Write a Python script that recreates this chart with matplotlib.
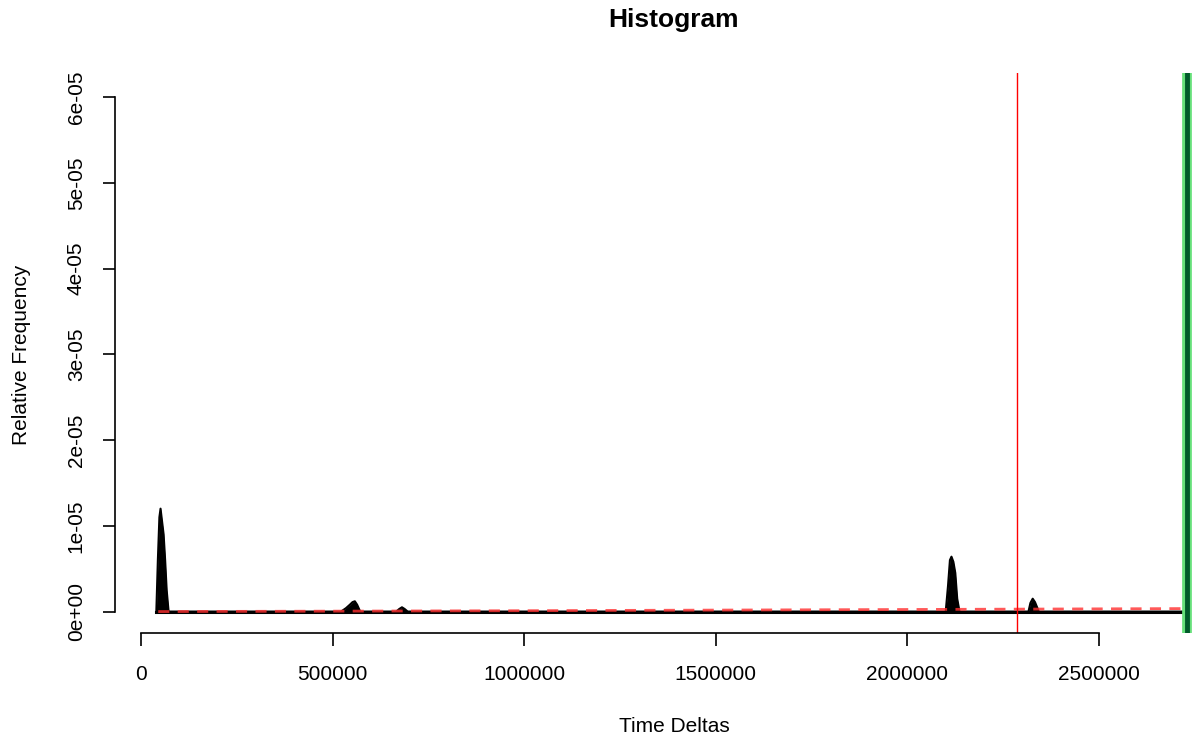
import matplotlib
matplotlib.use("Agg")
import matplotlib.pyplot as plt
import numpy as np

plt.rcParams['font.family'] = ['Liberation Sans', 'DejaVu Sans']

# density outline (time delta, relative frequency)
dens_x = [40000, 44000, 48000, 51000, 55000, 59000, 63000, 67000, 72000,
          300000,
          522000, 535000, 545000, 552000, 558000, 564000, 572000,
          666000, 674000, 681000, 688000, 696000,
          1500000,
          2100000, 2106000, 2111000, 2115000, 2120000, 2125000, 2130000, 2136000,
          2316000, 2321000, 2327000, 2333000, 2343000,
          2725000]
dens_y = [0, 6.0e-06, 1.1e-05, 1.2e-05, 1.05e-05, 9.0e-06, 6.0e-06, 2.5e-06, 0,
          0,
          0, 4.0e-07, 8.0e-07, 1.1e-06, 1.2e-06, 8.0e-07, 0,
          0, 3.0e-07, 5.0e-07, 3.0e-07, 0,
          0,
          0, 3.0e-06, 6.0e-06, 6.4e-06, 5.8e-06, 4.5e-06, 1.5e-06, 0,
          0, 1.0e-06, 1.5e-06, 1.1e-06, 0,
          0]

# fitted reference curve (dashed red)
fit_x = [45000, 1000000, 2000000, 2740000]
fit_y = [0, 1.0e-07, 2.4e-07, 3.5e-07]

cutoff = 2286000
marker = 2729700

xticks = [0, 500000, 1000000, 1500000, 2000000, 2500000]
yticks = [0, 1e-05, 2e-05, 3e-05, 4e-05, 5e-05, 6e-05]
ytick_labels = ['0e+00', '1e-05', '2e-05', '3e-05', '4e-05', '5e-05', '6e-05']

W, H = 1192, 738
fig = plt.figure(figsize=(W / 100, H / 100), dpi=100)
left, right, top, bottom = 115, 1233, 73, 633
ax = fig.add_axes([left / W, (H - bottom) / H, (right - left) / W, (bottom - top) / H])

ax.fill_between(dens_x, dens_y, 0, color='black', lw=0)
ax.plot(dens_x, dens_y, color='black', lw=1.5)
ax.plot([dens_x[0], dens_x[-1]], [0, 0], color='black', lw=2.2)
ax.plot(fit_x, fit_y, color='#ff3030', lw=2, ls=(0, (4, 3)), alpha=0.8)

ax.axvline(cutoff, color='red', lw=1)
ax.axvline(marker, color='#66e07a', lw=7)
ax.axvline(marker, color='#005a2a', lw=3.5)

ax.set_xlim(-67850, 2849700)
ax.set_ylim(-2.5e-06, 6.28e-05)

for s in ['top', 'right']:
    ax.spines[s].set_visible(False)
ax.spines['left'].set_bounds(0, 6e-05)
ax.spines['bottom'].set_bounds(0, 2500000)
ax.spines['left'].set_linewidth(1.2)
ax.spines['bottom'].set_linewidth(1.2)

ax.set_xticks(xticks)
ax.set_xticklabels([str(t) for t in xticks])
ax.set_yticks(yticks)
ax.set_yticklabels(ytick_labels, rotation=90, va='center')
ax.tick_params(axis='both', length=9, width=1.2, labelsize=15)
ax.tick_params(axis='x', pad=14)
ax.tick_params(axis='y', pad=12)

fig.text(674 / W, 1 - 20 / H, 'Histogram', ha='center', va='center',
         fontsize=19, fontweight='bold')
fig.text(674 / W, 1 - 727 / H, 'Time Deltas', ha='center', va='center', fontsize=15)
fig.text(22 / W, 1 - 355 / H, 'Relative Frequency', ha='center', va='center',
         rotation=90, fontsize=15)

fig.savefig('out.png', dpi=100)
